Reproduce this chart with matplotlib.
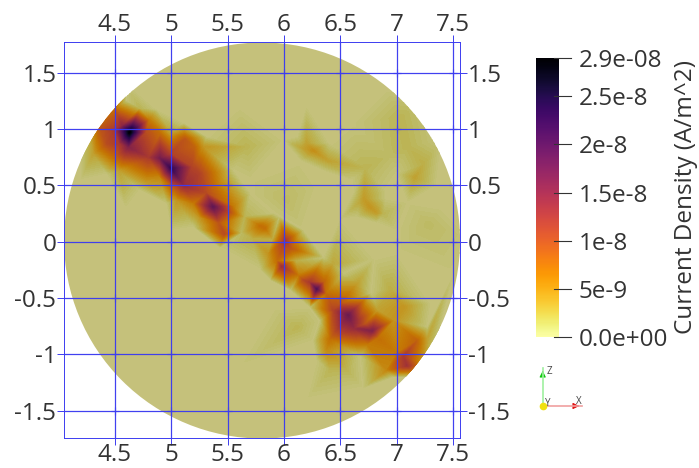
import numpy as np
import matplotlib
matplotlib.use("Agg")
import matplotlib.pyplot as plt
import matplotlib.tri as mtri
from matplotlib.colors import ListedColormap, Normalize
from matplotlib.cm import ScalarMappable
from matplotlib.lines import Line2D
from matplotlib.patches import Circle

plt.rcParams['font.family'] = ['Open Sans', 'DejaVu Sans']

# --- Tick values ---
x_ticks = [4.5, 5, 5.5, 6, 6.5, 7, 7.5]
x_labels = ["4.5", "5", "5.5", "6", "6.5", "7", "7.5"]
y_ticks = [-1.5, -1, -0.5, 0, 0.5, 1, 1.5]
y_labels = ["-1.5", "-1", "-0.5", "0", "0.5", "1", "1.5"]
cbar_ticks = [0, 5e-9, 1e-8, 1.5e-8, 2e-8, 2.5e-8, 2.9e-8]
cbar_labels = ["0.0e+00", "5e-9", "1e-8", "1.5e-8", "2e-8", "2.5e-8", "2.9e-08"]

# --- Current density (x, y, value in 1e-9 A/m^2) ---
band_x = [4.37, 4.50, 4.50, 4.43, 4.50, 4.57, 4.63, 4.77, 4.62, 4.54, 4.80, 4.90, 4.80, 4.90,
          5.00, 4.99, 5.12, 5.20, 5.18, 5.25, 5.11, 5.02, 5.37, 5.46, 5.31, 5.55, 5.42, 5.79,
          5.47, 5.83, 6.01, 6.06, 5.98, 5.94, 5.86, 6.17, 6.29, 6.35, 6.23, 6.37, 6.13, 6.44,
          6.50, 6.57, 6.65, 6.62, 6.78, 6.72, 6.83, 6.74, 7.06, 7.09, 7.18, 7.00, 6.41]
band_y = [1.00, 1.18, 0.99, 0.87, 0.74, 1.03, 0.97, 0.97, 0.84, 0.87, 1.08, 0.96, 0.75, 0.74,
          0.65, 0.78, 0.91, 0.84, 0.66, 0.60, 0.50, 0.49, 0.31, 0.28, 0.43, 0.31, 0.17, 0.14,
          0.07, 0.12, 0.01, -0.06, -0.22, -0.17, -0.11, -0.34, -0.42, -0.36, -0.36, -0.46, -0.30, -0.61,
          -0.55, -0.65, -0.70, -0.77, -0.79, -0.73, -0.85, -0.91, -1.02, -1.10, -0.88, -0.99, -0.86]
band_val = [9, 7, 12, 10, 7, 15, 29, 10, 16, 12, 6, 7, 12, 17,
            23, 11, 9, 8, 11, 11, 14, 9, 19, 13, 10, 6, 9, 7,
            10, 7, 12, 9, 13, 7, 4, 10, 20, 8, 12, 7, 6, 11,
            9, 18, 13, 14, 16, 9, 7, 6, 12, 13, 8, 6, 7]

faint_x = [4.72, 4.99, 5.28, 4.78, 4.90, 4.31, 4.54, 5.05, 5.20, 5.25, 5.67, 7.27, 6.38, 6.91,
           7.06, 6.97, 6.83, 6.65, 6.12, 6.41, 6.56, 6.43, 6.94, 6.26, 6.17, 6.39, 6.72, 6.76,
           6.67, 6.88, 7.16, 7.24, 7.10, 7.04, 6.93, 7.28, 6.02,
           5.65, 5.62, 5.72, 5.90, 6.10, 6.20, 6.33, 6.71, 6.82]
faint_y = [1.18, 0.96, 0.84, 0.54, 0.57, 0.78, 0.63, 0.37, 0.34, 0.22, 0.84, -0.86, -0.95, -1.14,
           -0.58, -0.70, -0.61, -0.37, -0.76, -1.14, -1.14, -0.20, -0.42, 0.81, 0.83, 0.72, 0.65, 0.31,
           0.35, 0.25, 0.57, 0.69, 0.84, 1.11, 0.77, 0.16, 0.37,
           0.22, 0.08, 0.03, 0.02, -0.17, 0.87, 0.76, 0.38, 0.26]
faint_val = [1.5, 3, 4, 4, 5, 3, 3, 4, 6, 4, 1.5, 3, 5, 5,
             4, 4, 3, 3, 1.5, 1.5, 1.5, 2.5, 2, 4.5, 3, 3, 1.5, 4,
             2.5, 1.5, 3, 2, 1.5, 1.5, 1, 1, 1,
             1.5, 1, 2, 2, 2, 3, 3.5, 3.5, 3.5]

# background, including just outside each warm patch
zero_x = [5.8, 5.2, 6.4, 6.9, 4.6, 7.4, 5.0, 5.6, 6.2, 6.6, 5.7, 6.3, 6.5, 7.0, 7.4, 7.5, 7.3,
          7.3, 6.7, 6.9, 6.2, 5.7, 5.6, 5.9, 5.6, 5.3, 5.0, 4.6, 4.2, 4.1, 4.05, 4.3, 4.7, 5.2,
          5.0, 4.6, 6.2, 7.0, 6.0, 6.8, 6.3, 6.6, 6.9, 3.9, 7.7, 3.9, 7.7, 3.9, 7.7, 5.8, 5.8,
          4.2, 7.3, 4.2, 7.3,
          4.60, 4.87, 5.11, 5.31, 5.55, 5.70, 5.96, 4.43, 4.72, 4.96, 5.20, 5.43,
          5.91, 6.17, 6.35, 6.53, 6.77, 7.27, 5.79, 5.88, 6.06, 6.23, 6.32, 6.26, 6.29, 6.68, 6.97, 7.18,
          6.12, 6.40, 6.15, 6.38, 6.62, 6.90, 6.65, 6.82, 7.00, 7.10, 7.35]
zero_y = [1.7, 1.5, 1.6, 1.35, 1.4, 0.9, 1.25, 1.2, 1.2, 1.05, 0.55, 0.5, 0.2, -0.1, 0.3, -0.3, -0.55,
          -1.1, -1.3, -1.55, -1.4, -1.7, -1.1, -0.6, -0.4, -0.1, 0.1, 0.3, 0.55, 0.2, -0.3, -0.8, -1.3, -1.5,
          -0.7, -0.3, -0.9, 0.1, 0.9, -0.15, 0.1, 0.55, 0.45, 1.9, 1.9, -1.9, -1.9, 0.0, 0.0, 1.9, -1.9,
          1.3, 1.3, -1.3, -1.3,
          1.25, 1.17, 1.05, 0.93, 0.63, 0.43, 0.22, 0.60, 0.46, 0.34, 0.13, -0.05,
          0.25, 0.10, -0.14, -0.28, -0.46, -0.76, -0.25, -0.34, -0.43, -0.58, -0.70, -0.88, -1.05, -1.02, -1.20, -1.20,
          0.93, 0.87, 0.72, 0.62, 0.44, 0.38, 0.22, 0.17, 0.60, 0.35, 0.5]

field_x = np.array(band_x + faint_x + zero_x)
field_y = np.array(band_y + faint_y + zero_y)
field_val = np.array(band_val + faint_val + [0] * len(zero_x)) * 1e-9

W, H = 699, 468
blue = "#3c3cf0"
text_col = '#333333'
text_size = 17.5

# surface is lit in the render, so the colours come out darker than the bar
base = matplotlib.colormaps['inferno_r'](np.linspace(0, 1, 256))
dim = base.copy()
dim[:, :3] = base[:, :3] * [0.78, 0.76, 0.75]
surface_cmap = ListedColormap(dim)
norm = Normalize(0, 2.9e-8)


def box(left, top, right, bottom):
    return [left / W, 1 - bottom / H, (right - left) / W, (bottom - top) / H]


fig = plt.figure(figsize=(W / 100, H / 100), dpi=100)
ax = fig.add_axes(box(64, 42.3, 460.3, 438.3))
ax.set_xlim(4.048, 7.564)
ax.set_ylim(-1.745, 1.769)

# contours so the colour follows the scalar (gouraud mixes rgb and goes muddy)
tri = mtri.Triangulation(field_x, field_y)
levels = np.linspace(-1e-10, 2.91e-8, 120)
mesh = ax.tricontourf(tri, field_val, levels=levels, cmap=surface_cmap, norm=norm,
                      antialiased=False, zorder=1)
disc = Circle((5.805, 0.01), 1.757, transform=ax.transData)
mesh.set_clip_path(disc)

# grid: thin line with a soft halo, small crosses where lines meet
for v in x_ticks:
    ax.axvline(v, color=blue, lw=1.8, alpha=0.15, zorder=2)
    ax.axvline(v, color=blue, lw=0.7, zorder=3)
for v in y_ticks:
    ax.axhline(v, color=blue, lw=1.8, alpha=0.15, zorder=2)
    ax.axhline(v, color=blue, lw=0.7, zorder=3)
gx, gy = np.meshgrid(x_ticks, y_ticks)
ax.plot(gx.ravel(), gy.ravel(), ls='none', marker='+', ms=5.5, mew=0.9, color=blue, alpha=0.55, zorder=4)

for s in ax.spines.values():
    s.set_color(blue)
    s.set_linewidth(0.7)
ax.set_xticks(x_ticks, x_labels)
ax.set_yticks(y_ticks, y_labels)
ax.tick_params(length=5, width=0.7, color=blue, labelsize=text_size, labelcolor=text_col,
               top=True, right=True, labeltop=True, labelbottom=True, labelleft=True, labelright=True, pad=0.5)
ax.tick_params(axis='x', pad=-1.5)

# --- colour bar ---
cax = fig.add_axes(box(536, 58, 559, 336.7))
cb = fig.colorbar(ScalarMappable(norm=norm, cmap='inferno_r'), cax=cax)
cb.outline.set_visible(False)
cb.set_ticks(cbar_ticks, labels=cbar_labels)
cax.tick_params(length=0, labelsize=text_size, colors=text_col, pad=14)
for v in cbar_ticks:
    cax.plot([0.78, 1.52], [v, v], color='#333333', lw=0.8, clip_on=False,
             transform=cax.get_yaxis_transform())
fig.text(686 / W, 1 - 197 / H, "Current Density (A/m^2)", rotation=90, ha='center', va='center',
         fontsize=text_size, color=text_col)


# --- orientation triad ---
def fpos(px, py):
    return (px / W, 1 - py / H)


for tip, back, col, soft in [((542.7, 368), (542.7, 375), '#10c810', '#a0f0a0'),
                             ((582, 406), (575, 406), '#e01010', '#f0a0a0')]:
    fig.add_artist(Line2D(*zip(fpos(542.7, 406), fpos(*tip)), color=soft, lw=1.2))
    ax.annotate("", xy=fpos(*tip), xycoords='figure fraction', xytext=fpos(*back),
                textcoords='figure fraction', annotation_clip=False,
                arrowprops=dict(arrowstyle='-|>', color=col, lw=0.8, mutation_scale=9))
fig.add_artist(Line2D([542.7 / W], [1 - 406 / H], marker='o', ms=4.5, color='#f0e010'))
for label, px, py in [("Z", 549, 371), ("Y", 548, 404), ("X", 579, 402)]:
    fig.text(px / W, 1 - py / H, label, fontsize=7, color='#444444', ha='center', va='center')

fig.savefig("out.png", dpi=100)
